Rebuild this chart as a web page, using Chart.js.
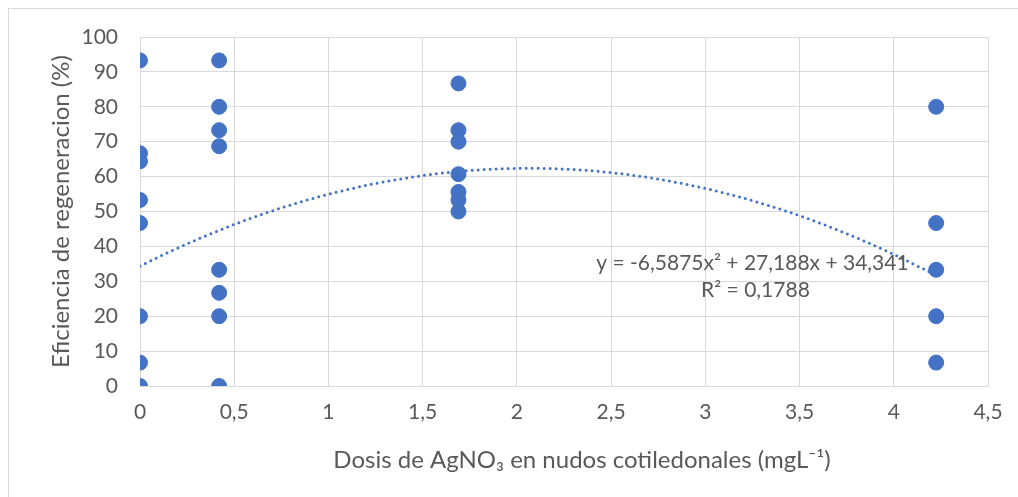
<!DOCTYPE html>
<html>
<head>
<meta charset="utf-8">
<script src="https://cdn.jsdelivr.net/npm/chart.js@4/dist/chart.umd.min.js"></script>
<style>
html,body{margin:0;padding:0;background:#fff;}
#wrap{width:1018px;height:497px;position:relative;}
</style>
</head>
<body>
<div id="wrap"><canvas id="c" width="1018" height="497"></canvas></div>
<script>
// Data
const doses = [0, 0.42, 1.69, 4.225];
const eff_0 = [93.3, 66.7, 64.4, 53.3, 46.7, 20, 6.7, 0];
const eff_042 = [93.3, 80, 73.3, 68.7, 33.3, 26.7, 20, 0];
const eff_169 = [86.7, 73.3, 70, 60.7, 55.6, 53.3, 50];
const eff_4225 = [80, 46.7, 33.3, 20, 6.7];
const trendCoef = [34.341, 27.188, -6.5875]; // c0, c1, c2 from the chart's label
const xTicks = [0, 0.5, 1, 1.5, 2, 2.5, 3, 3.5, 4, 4.5];
const yTicks = [0, 10, 20, 30, 40, 50, 60, 70, 80, 90, 100];
const eqLine1 = "y = -6,5875x² + 27,188x + 34,341";
const eqLine2 = "R² = 0,1788";
const xTitle = "Dosis de AgNO₃ en nudos cotiledonales (mgL⁻¹)";
const yTitle = "Eficiencia de regeneracion (%)";

const groups = [[doses[0], eff_0], [doses[1], eff_042], [doses[2], eff_169], [doses[3], eff_4225]];
const pts = [];
groups.forEach(([x, ys]) => ys.forEach(y => pts.push({x: x, y: y})));

const trend = [];
const tMax = doses[3];
for (let i = 0; i <= 100; i++) {
  const x = tMax * i / 100;
  trend.push({x: x, y: trendCoef[0] + trendCoef[1] * x + trendCoef[2] * x * x});
}

const FONT = "Lato, 'Open Sans', sans-serif";
const GREY = '#595959';

const framePlugin = {
  id: 'frame',
  beforeDraw(chart) {
    const ctx = chart.ctx;
    ctx.save();
    ctx.fillStyle = '#fff';
    ctx.fillRect(0, 0, chart.width, chart.height);
    ctx.strokeStyle = '#d9d9d9';
    ctx.lineWidth = 1;
    ctx.strokeRect(8.5, 8.5, 1200, 700);
    ctx.restore();
  },
  afterDraw(chart) {
    const ctx = chart.ctx;
    const xs = chart.scales.x, ys = chart.scales.y;
    ctx.save();
    ctx.fillStyle = GREY;
    ctx.font = "21px " + FONT;
    ctx.textAlign = 'center';
    ctx.textBaseline = 'middle';
    const cx = xs.getPixelForValue(3.25);
    ctx.fillText(eqLine1, cx, ys.getPixelForValue(35.3));
    ctx.fillText(eqLine2, cx + 3, ys.getPixelForValue(27.4));
    // x axis title
    ctx.font = "24px " + FONT;
    ctx.fillText(xTitle, 582, 460);
    ctx.restore();
  }
};

new Chart(document.getElementById('c'), {
  type: 'scatter',
  data: {
    datasets: [
      {
        label: 'Trend',
        data: trend,
        showLine: true,
        borderColor: '#4472C4',
        borderWidth: 3,
        borderDash: [0, 6],
        borderCapStyle: 'round',
        pointRadius: 0,
        fill: false,
        order: 0
      },
      {
        label: 'Eficiencia',
        data: pts,
        backgroundColor: '#4472C4',
        borderColor: '#4472C4',
        pointRadius: 7.5,
        pointHoverRadius: 7.5,
        order: 1
      }
    ]
  },
  options: {
    responsive: false,
    animation: false,
    events: [],
    layout: {padding: {top: 37, right: 30, left: 0, bottom: 0}},
    plugins: {legend: {display: false}, tooltip: {enabled: false}},
    scales: {
      x: {
        type: 'linear',
        min: 0, max: 4.5,
        afterBuildTicks: (s) => { s.ticks = xTicks.map(v => ({value: v})); },
        afterFit: (s) => { s.height = 111; },
        grid: {color: '#d9d9d9', lineWidth: 1, drawTicks: false},
        border: {color: '#d9d9d9'},
        ticks: {
          padding: 14,
          color: GREY,
          font: {family: FONT, size: 21},
          callback: (v) => String(v).replace('.', ',')
        },
        title: {display: false}
      },
      y: {
        type: 'linear',
        min: 0, max: 100,
        afterBuildTicks: (s) => { s.ticks = yTicks.map(v => ({value: v})); },
        afterFit: (s) => { s.width = 140; },
        grid: {color: '#d9d9d9', lineWidth: 1, drawTicks: false},
        border: {color: '#d9d9d9'},
        ticks: {
          padding: 22,
          color: GREY,
          font: {family: FONT, size: 21}
        },
        title: {
          display: true,
          text: yTitle,
          color: GREY,
          font: {family: FONT, size: 24},
          padding: {top: 47, bottom: 0}
        }
      }
    }
  },
  plugins: [framePlugin]
});
</script>
</body>
</html>
